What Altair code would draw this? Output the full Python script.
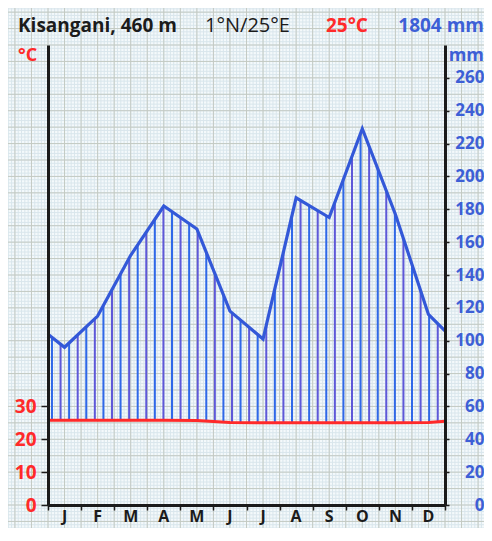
import altair as alt
import numpy as np
import pandas as pd

# ---------------- data ----------------
MONTHS = ["J", "F", "M", "A", "M", "J", "J", "A", "S", "O", "N", "D"]
PRECIP = [96, 115, 152, 182, 168, 118, 101, 187, 175, 229, 177, 116]   # mm
PRECIP_EDGES = [104, 106]                                              # line value at left / right border
TEMP = [25.8, 25.8, 25.8, 25.8, 25.7, 25.1, 25.0, 25.0, 25.0, 25.0, 25.0, 25.1]  # °C
TEMP_EDGES = [25.8, 25.5]
TEMP_TICKS = [0, 10, 20, 30]
PRECIP_TICKS = list(range(0, 261, 20))
TITLE_NAME = "Kisangani, 460 m"
TITLE_COORD = "1°N/25°E"
TITLE_TEMP = "25°C"
TITLE_PREC = "1804 mm"
UNIT_T = "°C"
UNIT_P = "mm"

# ---------------- tables ----------------
mx = [0.0] + [i + 0.5 for i in range(12)] + [12.0]
pvals = [PRECIP_EDGES[0]] + PRECIP + [PRECIP_EDGES[1]]
tvals = [TEMP_EDGES[0]] + TEMP + [TEMP_EDGES[1]]
prec_df = pd.DataFrame({"x": mx, "p": pvals})
temp_df = pd.DataFrame({"x": mx, "t": tvals})
month_df = pd.DataFrame({"x": [i + 0.5 for i in range(12)], "m": MONTHS})

hx = np.linspace(0.12, 11.78, 46)
hatch_df = pd.DataFrame({
    "x": hx,
    "top": np.interp(hx, mx, pvals),
    "bot": np.interp(hx, mx, tvals) * 2.0,
    "k": [i % 2 for i in range(len(hx))],
})

# paper grid (decorative)
gxs = np.round(np.arange(-1.4, 13.45, 0.1), 2)
gys = np.arange(-16, 310, 2)
gv_fine = pd.DataFrame({"x": gxs, "y": -16, "y2": 310})
gh_fine = pd.DataFrame({"y": gys, "x": -1.4, "x2": 13.4})
frac = np.round(gv_fine["x"] * 2, 2) % 1
gv_major = gv_fine[np.isclose(frac, 0) | np.isclose(frac, 1)]
gh_major = gh_fine[gh_fine["y"] % 10 == 0]

# ---------------- styling ----------------
FONT = "Open Sans"
BLACK = "#1b1b1b"
RED = "#ff2a2a"
BLUE = "#3d5fd6"
LINE_BLUE = "#3358d8"
H = 460

xs = alt.Scale(domain=[0, 12], nice=False, zero=False)
ys_mm = alt.Scale(domain=[0, 280], nice=False, zero=False)
ys_t = alt.Scale(domain=[0, 140], nice=False, zero=False)

x_axis = alt.Axis(
    values=list(range(13)), labels=False, title=None, grid=False,
    domainColor=BLACK, domainWidth=3, tickColor=BLACK, tickWidth=1.5, tickSize=5,
    zindex=1,
)
temp_axis = alt.Axis(
    values=TEMP_TICKS, orient="left", title=None, grid=False,
    domainColor=BLACK, domainWidth=3, tickColor=BLACK, tickWidth=1.5, tickSize=7,
    labelFont=FONT, labelFontSize=19, labelFontWeight="bold", labelColor=RED,
    labelPadding=5, zindex=1,
)
prec_axis = alt.Axis(
    values=PRECIP_TICKS, orient="right", title=None, grid=False,
    domainColor=BLACK, domainWidth=3, tickColor=BLACK, tickWidth=1.5, tickSize=4,
    labelFont=FONT, labelFontSize=17, labelFontWeight="bold", labelColor=BLUE,
    labelAlign="right", labelPadding=35, zindex=1,
)

XA = alt.X("x:Q", scale=xs, axis=x_axis)

def vrules(df, color, width):
    return alt.Chart(df).mark_rule(color=color, strokeWidth=width).encode(
        x=XA, y=alt.Y("y:Q", scale=ys_mm, axis=None), y2="y2:Q")

def hrules(df, color, width):
    return alt.Chart(df).mark_rule(color=color, strokeWidth=width).encode(
        y=alt.Y("y:Q", scale=ys_mm, axis=None), x=XA, x2="x2:Q")

grid = [
    vrules(gv_fine, "#d9e6ec", 1), hrules(gh_fine, "#d9e6ec", 1),
    vrules(gv_major, "#c4cac3", 1), hrules(gh_major, "#c4cac3", 1),
]

hatch = alt.Chart(hatch_df).mark_rule(strokeWidth=2).encode(
    x=XA,
    y=alt.Y("bot:Q", scale=ys_mm, axis=None), y2="top:Q",
    color=alt.Color("k:N", scale=alt.Scale(domain=[0, 1], range=["#2f68e8", "#5e58d8"]), legend=None),
)

prec_line = alt.Chart(prec_df).mark_line(color=LINE_BLUE, strokeWidth=3.2).encode(
    x=XA, y=alt.Y("p:Q", scale=ys_mm, axis=prec_axis))

temp_line = alt.Chart(temp_df).mark_line(color=RED, strokeWidth=3).encode(
    x=XA, y=alt.Y("t:Q", scale=ys_t, axis=temp_axis))

month_labels = alt.Chart(month_df).mark_text(
    font=FONT, fontSize=16, fontWeight="bold", color=BLACK, baseline="alphabetic",
).encode(x=XA, y=alt.value(H + 17), text="m:N")

def label(text, x, y, color, weight, size, align="left"):
    return alt.Chart(pd.DataFrame({"s": [text]})).mark_text(
        align=align, baseline="alphabetic", font=FONT, fontSize=size,
        fontWeight=weight, color=color,
    ).encode(text="s:N", x=alt.value(x), y=alt.value(y))

texts = [
    label(TITLE_NAME, -30, -13, BLACK, "bold", 19),
    label(TITLE_COORD, 157, -13, BLACK, "normal", 20),
    label(TITLE_TEMP, 278, -13, RED, "bold", 19),
    label(TITLE_PREC, 436, -13, BLUE, "bold", 19, align="right"),
    label(UNIT_T, -30, 16, RED, "bold", 18),
    label(UNIT_P, 436, 16, BLUE, "bold", 18, align="right"),
]

chart = alt.layer(*grid, hatch, prec_line, temp_line, month_labels, *texts).resolve_scale(
    y="independent"
).properties(
    width=397, height=H,
    autosize=alt.AutoSizeParams(type="none"),
    padding={"left": 40, "top": 37, "right": 39, "bottom": 23},
    background="#f4f9fb",
).configure_view(stroke=None)

chart.save("out.html", embed_options={"renderer": "svg", "actions": False})
